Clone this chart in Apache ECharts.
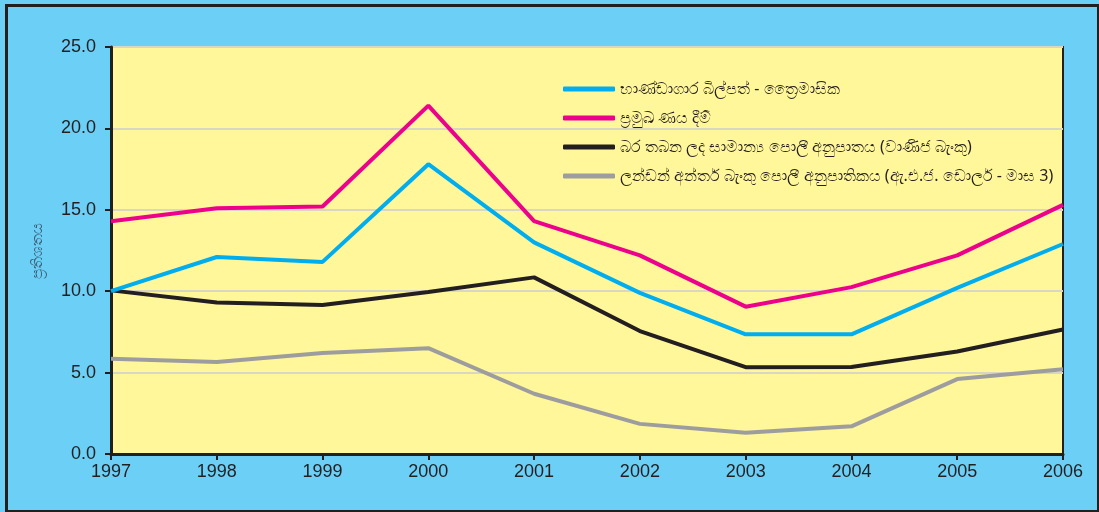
<!DOCTYPE html>
<html>
<head>
<meta charset="utf-8">
<script src="https://cdn.jsdelivr.net/npm/echarts@6/dist/echarts.min.js"></script>
<style>
  html, body { margin: 0; padding: 0; }
  #chart { width: 1099px; height: 512px; }
</style>
</head>
<body>
<div id="chart"></div>
<script>
var years = ['1997', '1998', '1999', '2000', '2001', '2002', '2003', '2004', '2005', '2006'];

var seriesNames = [
  'භාණ්ඩාගාර බිල්පත් - ත්‍රෛමාසික',
  'ප්‍රමුඛ ණය දීම්',
  'බර තබන ලද සාමාන්‍ය පොලී අනුපාතය (වාණිජ බැංකු)',
  'ලන්ඩන් අන්තර් බැංකු පොලී අනුපාතිකය (ඇ.එ.ජ. ඩොලර් - මාස 3)'
];

var treasuryBills = [10.0, 12.1, 11.8, 17.8, 13.0, 9.9, 7.35, 7.35, 10.2, 12.9];
var primeLending = [14.3, 15.1, 15.2, 21.4, 14.3, 12.2, 9.05, 10.25, 12.2, 15.3];
var weightedAvg = [10.05, 9.3, 9.15, 9.95, 10.85, 7.55, 5.33, 5.35, 6.3, 7.65];
var libor = [5.85, 5.65, 6.2, 6.5, 3.7, 1.85, 1.3, 1.7, 4.6, 5.2];

var lineColors = ['#00aeef', '#ec008c', '#231f20', '#9d9d9f'];

function initChart() {
  var chartDom = document.getElementById('chart');
  var myChart = echarts.init(chartDom);
  var dataSets = [treasuryBills, primeLending, weightedAvg, libor];

  var series = dataSets.map(function (d, i) {
    return {
      name: seriesNames[i],
      type: 'line',
      data: d,
      symbol: 'none',
      lineStyle: { color: lineColors[i], width: 4 },
      itemStyle: { color: lineColors[i] },
      z: 10 - i
    };
  });

  var option = {
    backgroundColor: '#6bcff6',
    animation: false,
    graphic: [
      {
        type: 'rect',
        left: 4,
        top: 3,
        shape: { width: 1092, height: 506 },
        style: { fill: 'none', stroke: '#231f20', lineWidth: 3 },
        z: 100
      }
    ],
    legend: {
      orient: 'vertical',
      left: 558,
      top: 74,
      itemWidth: 52,
      itemHeight: 5,
      itemGap: 9,
      icon: 'roundRect',
      textStyle: {
        color: '#231f20',
        fontSize: 16,
        lineHeight: 20,
        fontFamily: 'Noto Sans, sans-serif'
      },
      data: seriesNames
    },
    grid: {
      left: 111,
      right: 36,
      top: 47,
      bottom: 58,
      show: true,
      backgroundColor: '#fff799',
      borderColor: '#231f20',
      borderWidth: 2
    },
    xAxis: {
      type: 'category',
      data: years,
      boundaryGap: false,
      axisLine: { lineStyle: { color: '#231f20', width: 3 } },
      axisTick: { show: true, length: 6, lineStyle: { color: '#231f20', width: 2 } },
      axisLabel: {
        color: '#231f20',
        fontSize: 18,
        fontFamily: 'Liberation Sans, Arial, sans-serif',
        margin: 9
      },
      splitLine: { show: false }
    },
    yAxis: {
      type: 'value',
      min: 0,
      max: 25,
      interval: 5,
      name: 'ප්‍රතිශතය',
      nameLocation: 'middle',
      nameGap: 66,
      nameRotate: 90,
      nameTextStyle: { color: '#3d5a73', fontSize: 15, fontFamily: 'Noto Sans, sans-serif' },
      axisLine: { show: true, lineStyle: { color: '#231f20', width: 3 } },
      axisTick: { show: true, length: 6, lineStyle: { color: '#231f20', width: 2 } },
      axisLabel: {
        color: '#231f20',
        fontSize: 18,
        fontFamily: 'Liberation Sans, Arial, sans-serif',
        margin: 15,
        formatter: function (v) { return v.toFixed(1); }
      },
      splitLine: { show: true, lineStyle: { color: '#d9d6c4', width: 2 } }
    },
    series: series
  };

  myChart.setOption(option);
}

document.addEventListener('DOMContentLoaded', function () {
  initChart();
});
</script>
</body>
</html>
